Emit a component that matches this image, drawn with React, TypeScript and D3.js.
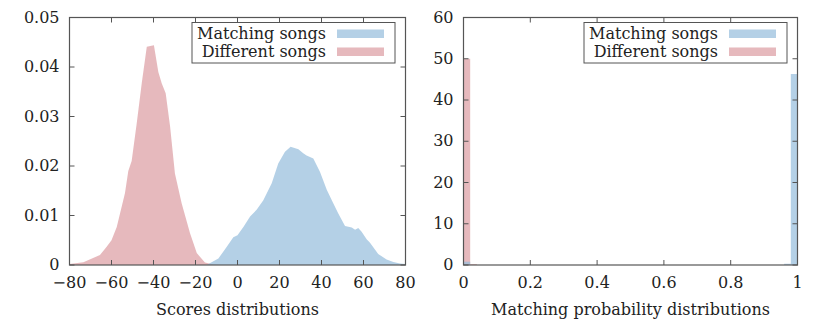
import React from 'react';
import * as d3 from 'd3';

// scores distribution (left panel)
const matchingScoreX = [-14.7, -9.1, -5.1, -2, 0, 2.8, 6, 9.2, 12.3, 16.3, 19.4, 22.6, 25.3, 29, 31.3, 32.9, 36.1, 39.3, 42.5, 45.6, 48, 51.2, 54.4, 56, 57.5, 59.1, 61.5, 63.1, 67, 71, 74.2, 77.4, 80];
const matchingScoreY = [0, 0.0013, 0.0037, 0.0056, 0.006, 0.0077, 0.0098, 0.0112, 0.0131, 0.0165, 0.0205, 0.0229, 0.0239, 0.0234, 0.0226, 0.0221, 0.0215, 0.0188, 0.0152, 0.0125, 0.0104, 0.0079, 0.0076, 0.0071, 0.0075, 0.0067, 0.0052, 0.0045, 0.0022, 0.0011, 0.0006, 0.0003, 0.0002];
const differentScoreX = [-80, -73.4, -65.5, -62.3, -60, -57.5, -53.6, -52, -50.4, -48, -45.6, -43.2, -39.8, -37.7, -36.1, -34.2, -32.1, -29.8, -26.6, -22.6, -19.4, -15.5, -11.5, -9];
const differentScoreY = [0.0002, 0.00055, 0.002, 0.0037, 0.005, 0.0077, 0.0145, 0.019, 0.021, 0.0286, 0.0367, 0.0441, 0.0444, 0.039, 0.0367, 0.0347, 0.028, 0.0185, 0.0125, 0.0064, 0.0024, 0.0005, 0.0001, 0];

// matching probability histogram (right panel), bin width 0.02, non-empty bins only
const binWidth = 0.02;
const matchingProbBins = [0, 0.96, 0.98];
const matchingProbValues = [0.8, 0.3, 46.3];
const differentProbBins = [0, 0.02];
const differentProbValues = [50, 0.2];

const scoreXTicks = [-80, -60, -40, -20, 0, 20, 40, 60, 80];
const scoreYTicks = [0, 0.01, 0.02, 0.03, 0.04, 0.05];
const probXTicks = [0, 0.2, 0.4, 0.6, 0.8, 1];
const probYTicks = [0, 10, 20, 30, 40, 50, 60];

const seriesNames = ['Matching songs', 'Different songs'];

const blue = '#9bc0de';
const red = '#dea2a7';
const axisColor = '#555';
const font = '"DejaVu Serif", serif';
const fontSize = 16;

const fmt = (v: number) => (v < 0 ? '\u2212' + Math.abs(v) : String(v));

type PanelProps = {
  left: number;
  right: number;
  x: d3.ScaleLinear<number, number>;
  y: d3.ScaleLinear<number, number>;
  xTicks: number[];
  yTicks: number[];
  title: string;
  children: React.ReactNode;
};

const top = 17.5;
const bottom = 265;

const Panel = ({ left, right, x, y, xTicks, yTicks, title, children }: PanelProps) => {
  const tick = 5;
  const legRight = right - 10.5;
  const swRight = right - 21.5;
  const swLeft = swRight - 47;
  const textRight = swLeft - 11;
  const legLeft = textRight - 134;
  return (
    <g>
      {children}
      {xTicks.map(t => (
        <g key={'x' + t}>
          <line x1={x(t)} x2={x(t)} y1={bottom} y2={bottom - tick} stroke={axisColor} />
          <line x1={x(t)} x2={x(t)} y1={top} y2={top + tick} stroke={axisColor} />
          <text x={x(t)} y={288} textAnchor="middle" fontFamily={font} fontSize={fontSize} fill="#222">
            {fmt(t)}
          </text>
        </g>
      ))}
      {yTicks.map(t => (
        <g key={'y' + t}>
          <line x1={left} x2={left + tick} y1={y(t)} y2={y(t)} stroke={axisColor} />
          <line x1={right} x2={right - tick} y1={y(t)} y2={y(t)} stroke={axisColor} />
          <text x={left - 10} y={y(t) + 5} textAnchor="end" fontFamily={font} fontSize={fontSize} fill="#222">
            {fmt(t)}
          </text>
        </g>
      ))}
      <rect x={left} y={top} width={right - left} height={bottom - top} fill="none" stroke={axisColor} strokeWidth={1.2} />
      <text x={(left + right) / 2} y={315} textAnchor="middle" fontFamily={font} fontSize={fontSize} fill="#222">
        {title}
      </text>
      <rect x={legLeft} y={22.5} width={legRight - legLeft} height={40.5} fill="#fff" stroke={axisColor} />
      {seriesNames.map((n, i) => (
        <g key={n}>
          <text x={textRight} y={38.5 + i * 18} textAnchor="end" fontFamily={font} fontSize={fontSize} fill="#222">
            {n}
          </text>
          <rect x={swLeft} y={29.5 + i * 18} width={47} height={8.5} fill={i === 0 ? blue : red} fillOpacity={0.75} />
        </g>
      ))}
    </g>
  );
};

export default function App() {
  const xs = d3.scaleLinear().domain([-80, 80]).range([69.5, 405.5]);
  const ys = d3.scaleLinear().domain([0, 0.05]).range([bottom, top]);
  const xp = d3.scaleLinear().domain([0, 1]).range([463.5, 797.5]);
  const yp = d3.scaleLinear().domain([0, 60]).range([bottom, top]);

  const area = d3
    .area<[number, number]>()
    .x(d => xs(d[0]))
    .y0(ys(0))
    .y1(d => ys(d[1]));

  const diffPts = differentScoreX.map((v, i) => [v, differentScoreY[i]] as [number, number]);
  const matchPts = matchingScoreX.map((v, i) => [v, matchingScoreY[i]] as [number, number]);

  return (
    <svg width={830} height={323} style={{ position: 'absolute', left: 0, top: 0, background: '#fff' }}>
      <Panel left={69.5} right={405.5} x={xs} y={ys} xTicks={scoreXTicks} yTicks={scoreYTicks} title="Scores distributions">
        <path d={area(diffPts) || ''} fill={red} fillOpacity={0.75} />
        <path d={area(matchPts) || ''} fill={blue} fillOpacity={0.75} />
      </Panel>
      <Panel left={463.5} right={797.5} x={xp} y={yp} xTicks={probXTicks} yTicks={probYTicks} title="Matching probability distributions">
        {differentProbBins.map((b, i) => (
          <rect key={'d' + b} x={xp(b)} width={xp(b + binWidth) - xp(b)} y={yp(differentProbValues[i])} height={yp(0) - yp(differentProbValues[i])} fill={red} fillOpacity={0.75} />
        ))}
        {matchingProbBins.map((b, i) => (
          <rect key={'m' + b} x={xp(b)} width={xp(b + binWidth) - xp(b)} y={yp(matchingProbValues[i])} height={yp(0) - yp(matchingProbValues[i])} fill={blue} fillOpacity={0.75} />
        ))}
      </Panel>
    </svg>
  );
}
